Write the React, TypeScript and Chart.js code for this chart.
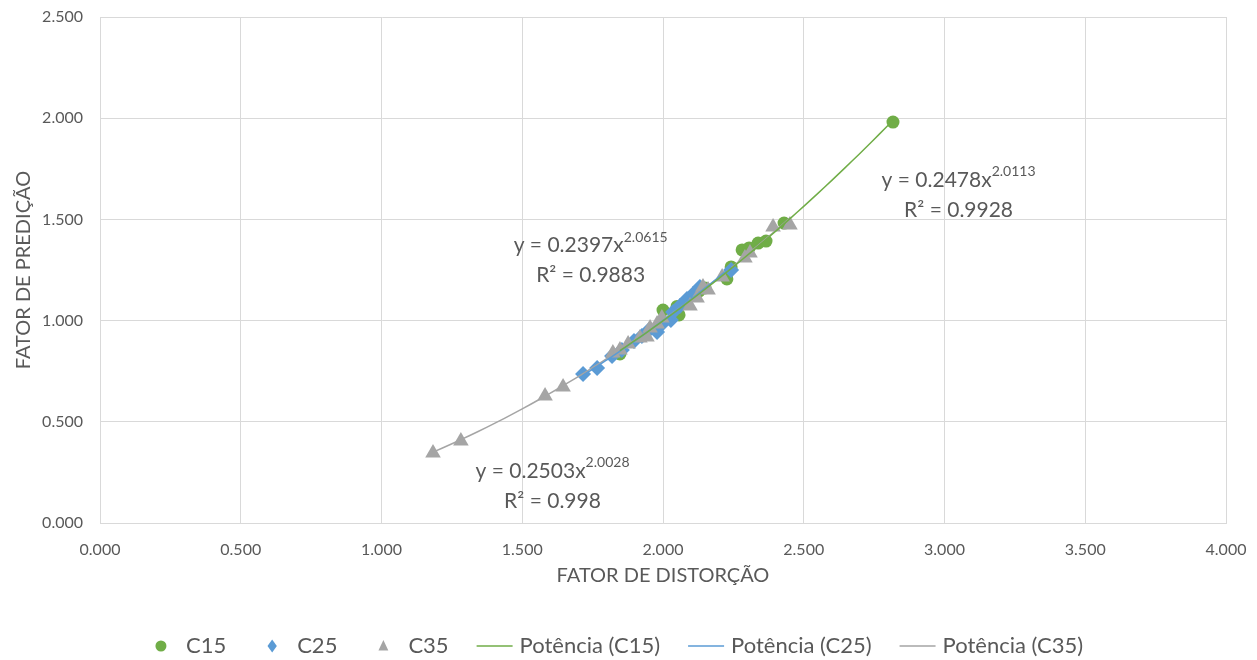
import React, { useEffect, useRef } from 'react';
import { Chart, registerables } from 'chart.js';

Chart.register(...registerables);

// ---- data ----
const c15X = [1.847, 2.0, 2.05, 2.057, 2.128, 2.149, 2.227, 2.242, 2.281, 2.306, 2.338, 2.366, 2.43, 2.817];
const c15Y = [0.835, 1.052, 1.07, 1.028, 1.146, 1.161, 1.206, 1.265, 1.349, 1.359, 1.383, 1.393, 1.482, 1.981];

const c25X = [1.716, 1.766, 1.819, 1.854, 1.897, 1.925, 1.95, 1.979, 2.0, 2.028, 2.036, 2.06, 2.085, 2.107, 2.131, 2.242];
const c25Y = [0.736, 0.766, 0.825, 0.855, 0.899, 0.924, 0.954, 0.944, 0.988, 1.003, 1.042, 1.072, 1.107, 1.131, 1.166, 1.25];

const c35X = [1.183, 1.282, 1.581, 1.645, 1.822, 1.847, 1.876, 1.918, 1.943, 1.954, 1.979, 1.996, 2.096, 2.121, 2.142, 2.16, 2.21, 2.291, 2.309, 2.391, 2.451];
const c35Y = [0.346, 0.405, 0.627, 0.672, 0.84, 0.855, 0.884, 0.914, 0.919, 0.963, 0.983, 1.013, 1.072, 1.112, 1.166, 1.151, 1.215, 1.309, 1.334, 1.462, 1.472];

const seriesNames = ['C15', 'C25', 'C35'];
const trendNames = ['Potência (C15)', 'Potência (C25)', 'Potência (C35)'];

// power trendline coefficients shown on the chart: y = a * x^b
const trendA = [0.2478, 0.2397, 0.2503];
const trendB = [2.0113, 2.0615, 2.0028];
const eqMain = ['y = 0.2478x', 'y = 0.2397x', 'y = 0.2503x'];
const eqExp = ['2.0113', '2.0615', '2.0028'];
const eqR2 = ['R² = 0.9928', 'R² = 0.9883', 'R² = 0.998'];

const xTickLabels = ['0.000', '0.500', '1.000', '1.500', '2.000', '2.500', '3.000', '3.500', '4.000'];
const yTickLabels = ['0.000', '0.500', '1.000', '1.500', '2.000', '2.500'];

const xTitle = 'FATOR DE DISTORÇÃO';
const yTitle = 'FATOR DE PREDIÇÃO';

// ---- styling ----
const FONT = 'Lato, "Open Sans", sans-serif';
const TEXT = '#595959';
const GRID = '#d9d9d9';
const colors = ['#70ad47', '#5b9bd5', '#a5a5a5'];
const pointStyles = ['circle', 'rectRot', 'triangle'];
const pointRadii = [6.5, 8, 9];

const allX = [c15X, c25X, c35X];
const allY = [c15Y, c25Y, c35Y];

function toPoints(xs: number[], ys: number[]) {
  return xs.map((x, i) => ({ x, y: ys[i] }));
}

function trendPoints(k: number) {
  const xs = allX[k];
  const lo = Math.min(...xs);
  const hi = Math.max(...xs);
  const pts: { x: number; y: number }[] = [];
  const n = 40;
  for (let i = 0; i <= n; i++) {
    const x = lo + ((hi - lo) * i) / n;
    pts.push({ x, y: trendA[k] * Math.pow(x, trendB[k]) });
  }
  return pts;
}

const eqPlugin = {
  id: 'eqLabels',
  afterDatasetsDraw(chart: any, _args: any, opts: any) {
    const { ctx, scales } = chart;
    const anchors = opts.anchors as { x: number; y: number }[];
    ctx.save();
    ctx.fillStyle = TEXT;
    ctx.textBaseline = 'middle';
    ctx.textAlign = 'left';
    anchors.forEach((a, k) => {
      const cx = scales.x.getPixelForValue(a.x);
      const cy = scales.y.getPixelForValue(a.y);
      ctx.font = `21px ${FONT}`;
      const wMain = ctx.measureText(eqMain[k]).width;
      ctx.font = `14px ${FONT}`;
      const wExp = ctx.measureText(eqExp[k]).width;
      const start = cx - (wMain + wExp) / 2;
      ctx.font = `21px ${FONT}`;
      ctx.fillText(eqMain[k], start, cy);
      ctx.font = `14px ${FONT}`;
      ctx.fillText(eqExp[k], start + wMain, cy - 8);
      ctx.font = `21px ${FONT}`;
      const wR = ctx.measureText(eqR2[k]).width;
      ctx.fillText(eqR2[k], cx - wR / 2, cy + 30);
    });
    ctx.restore();
  },
};

function drawMarker(ctx: CanvasRenderingContext2D, style: string, x: number, y: number, r: number) {
  ctx.beginPath();
  if (style === 'circle') {
    ctx.arc(x, y, r, 0, Math.PI * 2);
  } else if (style === 'rectRot') {
    ctx.moveTo(x, y - r * 1.2);
    ctx.lineTo(x + r * 0.85, y);
    ctx.lineTo(x, y + r * 1.2);
    ctx.lineTo(x - r * 0.85, y);
    ctx.closePath();
  } else {
    ctx.moveTo(x, y - r * 1.1);
    ctx.lineTo(x + r * 0.9, y + r * 0.8);
    ctx.lineTo(x - r * 0.9, y + r * 0.8);
    ctx.closePath();
  }
  ctx.fill();
}

const legendPlugin = {
  id: 'customLegend',
  afterDraw(chart: any, _args: any, opts: any) {
    const ctx: CanvasRenderingContext2D = chart.ctx;
    ctx.save();
    ctx.font = `22px ${FONT}`;
    ctx.textBaseline = 'middle';
    ctx.textAlign = 'left';
    const keyW = 36;
    const gap = 7;
    const spacing = 28;
    const labels = [...seriesNames, ...trendNames];
    const widths = labels.map((l) => ctx.measureText(l).width);
    const total = widths.reduce((s, w) => s + keyW + gap + w, 0) + spacing * (labels.length - 1);
    let x = opts.centerX - total / 2;
    const y = opts.y;
    labels.forEach((l, i) => {
      const k = i % 3;
      ctx.fillStyle = colors[k];
      ctx.strokeStyle = colors[k];
      if (i < 3) {
        drawMarker(ctx, pointStyles[k], x + keyW / 2, y, 5.5);
      } else {
        ctx.lineWidth = 1.5;
        ctx.beginPath();
        ctx.moveTo(x, y);
        ctx.lineTo(x + keyW, y);
        ctx.stroke();
      }
      ctx.fillStyle = TEXT;
      ctx.fillText(l, x + keyW + gap, y);
      x += keyW + gap + widths[i] + spacing;
    });
    ctx.restore();
  },
};

export default function App() {
  const ref = useRef<HTMLCanvasElement>(null);

  useEffect(() => {
    if (!ref.current) return;
    const scatterSets = [0, 1, 2].map((k) => ({
      label: seriesNames[k],
      data: toPoints(allX[k], allY[k]),
      showLine: false,
      pointStyle: pointStyles[k],
      pointRadius: pointRadii[k],
      pointBackgroundColor: colors[k],
      pointBorderColor: colors[k],
      pointBorderWidth: 0,
      backgroundColor: colors[k],
      borderColor: colors[k],
      order: 5 - k,
    }));
    const trendSets = [0, 1, 2].map((k) => ({
      label: trendNames[k],
      data: trendPoints(k),
      showLine: true,
      pointRadius: 0,
      borderColor: colors[k],
      backgroundColor: colors[k],
      borderWidth: 1.5,
      tension: 0,
      order: k,
    }));

    const chart = new Chart(ref.current, {
      type: 'scatter',
      data: { datasets: [...scatterSets, ...trendSets] as any },
      options: {
        animation: false,
        responsive: true,
        maintainAspectRatio: false,
        layout: { padding: { left: 0, right: 31, top: 17, bottom: 62 } },
        plugins: {
          legend: { display: false },
          tooltip: { enabled: false },
          eqLabels: {
            anchors: [
              { x: 3.05, y: 1.695 },
              { x: 1.743, y: 1.3735 },
              { x: 1.6075, y: 0.257 },
            ],
          },
          customLegend: { centerX: 613, y: 646 },
        } as any,
        scales: {
          x: {
            type: 'linear',
            min: 0,
            max: 4,
            ticks: {
              stepSize: 0.5,
              color: TEXT,
              font: { family: FONT, size: 16 },
              padding: 17,
              callback: (_v: any, i: number) => xTickLabels[i],
            },
            grid: { color: GRID, drawTicks: false, lineWidth: 1 },
            border: { color: GRID },
            title: {
              display: true,
              text: xTitle,
              color: TEXT,
              font: { family: FONT, size: 20 },
              padding: { top: 0, bottom: 10 },
            },
            afterFit: (s: any) => {
              s.height = 75;
              s.paddingLeft = 0;
              s.paddingRight = 0;
            },
          },
          y: {
            type: 'linear',
            min: 0,
            max: 2.5,
            ticks: {
              stepSize: 0.5,
              color: TEXT,
              font: { family: FONT, size: 16 },
              padding: 17,
              callback: (_v: any, i: number) => yTickLabels[i],
            },
            grid: { color: GRID, drawTicks: false, lineWidth: 1 },
            border: { color: GRID },
            title: {
              display: true,
              text: yTitle,
              color: TEXT,
              font: { family: FONT, size: 20 },
              padding: { top: 12, bottom: 0 },
            },
            afterFit: (s: any) => {
              s.width = 100;
              s.paddingTop = 0;
              s.paddingBottom = 0;
            },
          },
        },
      },
      plugins: [eqPlugin, legendPlugin],
    });
    return () => chart.destroy();
  }, []);

  return (
    <div style={{ position: 'fixed', left: 0, top: 0, width: 1257, height: 660, background: '#fff' }}>
      <canvas ref={ref} />
    </div>
  );
}
